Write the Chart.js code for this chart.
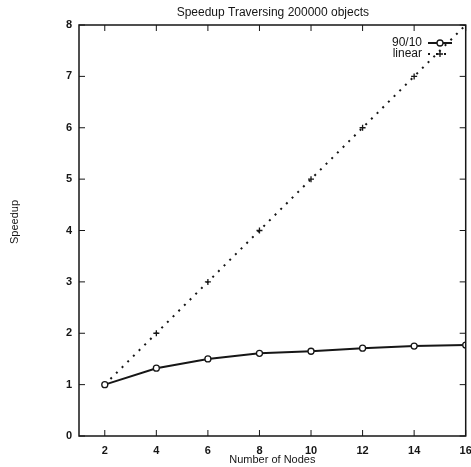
<!DOCTYPE html>
<html><head><meta charset="utf-8">
<script src="https://cdn.jsdelivr.net/npm/chart.js@4"></script>
<style>html,body{margin:0;padding:0;background:#fff}#wrap{width:471px;height:467px}</style>
</head><body><div id="wrap"><canvas id="c" width="471" height="467"></canvas></div>
<script>
const nodes = [2, 4, 6, 8, 10, 12, 14, 16];
const speedup9010 = [1.0, 1.32, 1.50, 1.61, 1.65, 1.71, 1.75, 1.77];
const speedupLinear = [1, 2, 3, 4, 5, 6, 7, 8];
const xTicks = [2, 4, 6, 8, 10, 12, 14, 16];
const yTicks = [0, 1, 2, 3, 4, 5, 6, 7, 8];
const titleText = 'Speedup Traversing 200000 objects';
const yTitleText = 'Speedup';
const FONT = '"Liberation Sans", Arial, sans-serif';
const INK = '#161616';

const frame = {
  id: 'frame',
  afterDatasetsDraw(chart) {
    const {ctx, chartArea: a, scales} = chart;
    ctx.save();
    ctx.strokeStyle = INK; ctx.lineWidth = 1.5;
    ctx.strokeRect(a.left, a.top, a.right - a.left, a.bottom - a.top);
    ctx.lineWidth = 1;
    const L = 6;
    xTicks.forEach(v => {
      const x = scales.x.getPixelForValue(v);
      ctx.beginPath(); ctx.moveTo(x, a.bottom); ctx.lineTo(x, a.bottom - L);
      ctx.moveTo(x, a.top); ctx.lineTo(x, a.top + L); ctx.stroke();
    });
    yTicks.forEach(v => {
      const y = scales.y.getPixelForValue(v);
      ctx.beginPath(); ctx.moveTo(a.left, y); ctx.lineTo(a.left + L, y);
      ctx.moveTo(a.right, y); ctx.lineTo(a.right - L, y); ctx.stroke();
    });
    // title
    ctx.fillStyle = INK; ctx.font = '12px ' + FONT;
    ctx.textAlign = 'center'; ctx.textBaseline = 'middle';
    ctx.fillText(titleText, (a.left + a.right) / 2 + 0.5, 13);
    // y title
    ctx.save();
    ctx.font = '11px ' + FONT;
    ctx.translate(15, 222); ctx.rotate(-Math.PI / 2);
    ctx.fillText(yTitleText, 0, 0);
    ctx.restore();
    // legend
    ctx.font = '12px ' + FONT;
    const ds = chart.data.datasets;
    const rows = [43, 54];
    ds.forEach((d, i) => {
      const y = rows[i];
      ctx.textAlign = 'right';
      ctx.fillText(d.label, 422, y);
      ctx.save();
      ctx.strokeStyle = INK; ctx.lineWidth = d.borderWidth;
      ctx.setLineDash(d.borderDash || []);
      ctx.beginPath(); ctx.moveTo(428, y); ctx.lineTo(452, y); ctx.stroke();
      ctx.setLineDash([]);
      ctx.lineWidth = 1.3;
      if (d.pointStyle === 'circle') {
        ctx.fillStyle = '#fff';
        ctx.beginPath(); ctx.arc(440, y, 3, 0, Math.PI * 2); ctx.fill(); ctx.stroke();
      } else {
        ctx.beginPath(); ctx.moveTo(437, y); ctx.lineTo(443, y);
        ctx.moveTo(440, y - 3); ctx.lineTo(440, y + 3); ctx.stroke();
      }
      ctx.restore();
    });
    ctx.restore();
  }
};

new Chart(document.getElementById('c'), {
  type: 'scatter',
  data: {
    datasets: [
      {
        label: '90/10',
        data: nodes.map((n, i) => ({x: n, y: speedup9010[i]})),
        showLine: true, borderColor: INK, borderWidth: 2,
        pointStyle: 'circle', pointRadius: 3, pointBorderWidth: 1.3,
        pointBackgroundColor: '#fff', pointBorderColor: INK
      },
      {
        label: 'linear',
        data: nodes.map((n, i) => ({x: n, y: speedupLinear[i]})),
        showLine: true, borderColor: INK, borderWidth: 2, borderDash: [2, 6],
        pointStyle: 'cross', pointRadius: 3, pointBorderWidth: 1.3,
        pointBorderColor: INK
      }
    ]
  },
  options: {
    responsive: false, animation: false, devicePixelRatio: 1,
    layout: {padding: {top: 25, right: 5, left: 0, bottom: 0}},
    plugins: {legend: {display: false}, title: {display: false}, tooltip: {enabled: false}},
    scales: {
      x: {
        type: 'linear', min: 1, max: 16,
        afterBuildTicks: s => { s.ticks = xTicks.map(v => ({value: v})); },
        afterFit: s => { s.height = 31; s.paddingRight = 0; s.paddingLeft = 0; },
        grid: {display: false, drawTicks: false},
        border: {display: false},
        ticks: {color: INK, font: {family: FONT, size: 11, weight: 'bold'}, padding: 8, maxRotation: 0},
        title: {display: true, text: 'Number of Nodes', color: INK, font: {family: FONT, size: 11}, padding: {top: 0, bottom: 0}}
      },
      y: {
        type: 'linear', min: 0, max: 8,
        afterBuildTicks: s => { s.ticks = yTicks.map(v => ({value: v})); },
        afterFit: s => { s.width = 79; s.paddingTop = 0; s.paddingBottom = 0; },
        grid: {display: false, drawTicks: false},
        border: {display: false},
        ticks: {color: INK, font: {family: FONT, size: 11, weight: 'bold'}, padding: 7}
      }
    }
  },
  plugins: [frame]
});
</script></body></html>
